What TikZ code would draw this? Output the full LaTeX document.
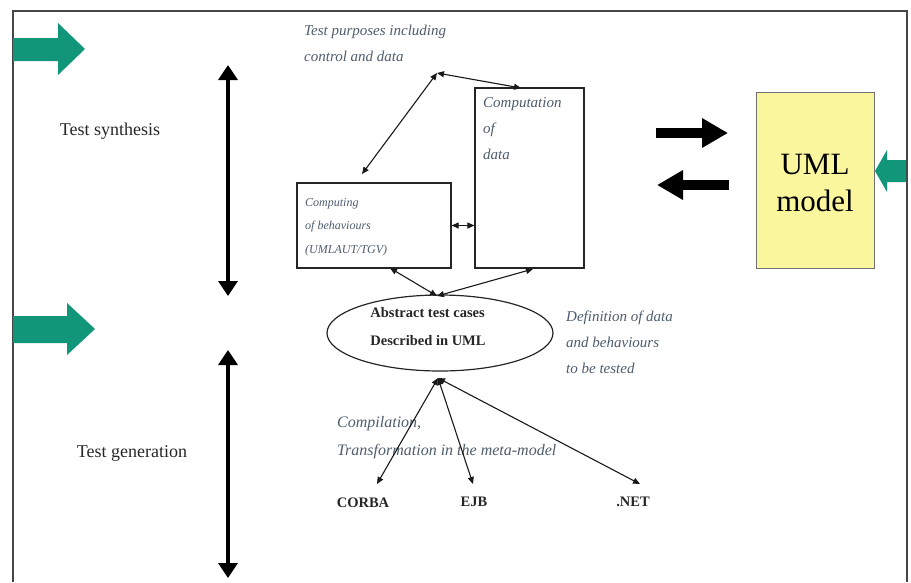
\documentclass[tikz,border=0pt]{standalone}
\usepackage{fontspec}
\setmainfont{Liberation Serif}
\usetikzlibrary{arrows.meta,shapes.geometric}

\definecolor{notegray}{RGB}{78,92,108}
\definecolor{flowgreen}{RGB}{17,150,122}
\definecolor{umlyellow}{RGB}{250,246,158}
\definecolor{framegray}{RGB}{70,70,70}

\tikzset{
  frameline/.style={draw=framegray,line width=1.4},
  note/.style={font=\itshape\fontsize{15}{26}\selectfont,text=notegray,inner sep=0,anchor=west,align=left},
  boxnote/.style={note,font=\itshape\fontsize{12}{23.5}\selectfont},
  sidelabel/.style={font=\fontsize{18}{22}\selectfont,text=black!85,inner sep=0},
  target/.style={font=\bfseries\fontsize{14.5}{18}\selectfont,text=black!85,inner sep=0},
  stagebox/.style={draw=black!85,line width=1.2,fill=white,inner sep=0},
  thinarrow/.style={draw=black!90,line width=1.1,{Triangle[length=7,width=6]}-{Triangle[length=7,width=6]}},
  bigarrow/.style={draw=black,line width=3.5,{Triangle[length=15,width=19]}-{Triangle[length=15,width=19]}},
  fatarrow/.style={draw=black,line width=10,-{Triangle[length=26,width=28]}},
  greenarrow/.style={fill=flowgreen}
}

\begin{document}
\begin{tikzpicture}[x=1pt,y=-1pt]
\useasboundingbox (0,0) rectangle (911,582);

% page frame (open at the bottom)
\draw[frameline] (13,582) -- (13,11) -- (907,11) -- (907,582);

% green block arrows
\fill[greenarrow] (13,38) -- (58,38) -- (58,23) -- (85,49) -- (58,75) -- (58,61) -- (13,61) -- cycle;
\fill[greenarrow] (13,316) -- (67,316) -- (67,303) -- (95,329) -- (67,355) -- (67,343) -- (13,343) -- cycle;
\fill[greenarrow] (906,160) -- (887,160) -- (887,150) -- (875,171) -- (887,192) -- (887,182) -- (906,182) -- cycle;

% phase labels and their extents
\node[sidelabel] (synth) at (110,131) {Test synthesis};
\node[sidelabel] (gener) at (132,453) {Test generation};
\coordinate (s1) at (228,65);
\coordinate (s2) at (228,296);
\coordinate (g1) at (228,350);
\coordinate (g2) at (228,578);
\draw[bigarrow] (s1) -- (s2);
\draw[bigarrow] (g1) -- (g2);

% test purposes
\node[note] (purp) at (304,43) {Test purposes including\\control and data};
\coordinate (tp) at (437,73);

% computing of behaviours
\node[stagebox,minimum width=154,minimum height=85] (beh) at (374,225.5) {};
\node[boxnote] (behtxt) at (305,227) {Computing\\of behaviours\\(UMLAUT/TGV)};

% computation of data
\node[stagebox,minimum width=109,minimum height=180] (dat) at (529.5,178) {};
\node[note] (dattxt) at (483,129) {Computation\\of\\data};

% UML model
\node[draw=black!55,line width=1,fill=umlyellow,minimum width=118,minimum height=176,inner sep=0] (uml) at (815,180) {};
\node[font=\fontsize{31}{37}\selectfont,align=center,inner sep=0] (umltxt) at (815,183) {UML\\model};

% exchange with the model
\coordinate (ra1) at (656,133);
\coordinate (ra2) at (728,133);
\coordinate (la1) at (729,185);
\coordinate (la2) at (657,185);
\draw[fatarrow] (ra1) -- (ra2);
\draw[fatarrow] (la1) -- (la2);

% abstract test cases
\node[ellipse,draw=black!85,line width=1.2,minimum width=226,minimum height=76,inner sep=0] (abs) at (440,333) {};
\node[font=\bfseries\fontsize{14.5}{28}\selectfont,text=black!85,align=left,inner sep=0] (abstxt) at (428,327) {Abstract test cases\\Described in UML};
\node[note] (defn) at (566,342) {Definition of data\\and behaviours\\to be tested};

% synthesis connectors
\coordinate (bt) at (362,174);
\coordinate (dt) at (521,88);
\coordinate (bb) at (390,268);
\coordinate (db) at (533,269);
\coordinate (at) at (437,296);
\draw[thinarrow] (tp) -- (bt);
\draw[thinarrow] (tp) -- (dt);
\draw[thinarrow] (beh.east) -- (dat.west |- beh.east);
\draw[thinarrow] (bb) -- (at);
\draw[thinarrow] (db) -- (at);

% generation towards the platforms
\node[note,font=\itshape\fontsize{16}{28}\selectfont] (comp) at (337,438) {Compilation,\\Transformation in the meta-model};
\node[target] (corba) at (363,503) {CORBA};
\node[target] (ejb) at (474,502) {EJB};
\node[target] (net) at (633,502) {.NET};
\coordinate (ab) at (438,378);
\coordinate (ct) at (377,484);
\coordinate (et) at (473,484);
\coordinate (nt) at (640,484);
\draw[thinarrow] (ab) -- (ct);
\draw[thinarrow] (ab) -- (et);
\draw[thinarrow] (ab) -- (nt);
\end{tikzpicture}
\end{document}
